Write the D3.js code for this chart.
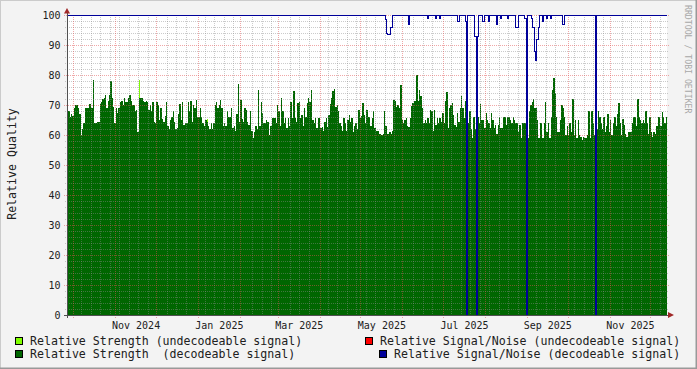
<!DOCTYPE html>
<html>
<head>
<meta charset="utf-8">
<script src="https://cdn.jsdelivr.net/npm/d3@7"></script>
<style>
  html, body { margin: 0; padding: 0; background: #f3f3f3; }
  svg { display: block; font-family: "DejaVu Sans Mono", monospace; }
</style>
</head>
<body>
<div class="svg"></div>
<script>
// one value per day, starting at firstDay
const firstDay = "2024-09-26";

// Relative Strength (decodeable signal), daily
const strength = [
  66,68,66,67,66.5,69,70,70,69,67,
  60,62,64,69,69,69,70.5,70.5,69,78.5,
  64,64,64.5,64.5,70.5,71,72,72.5,73.5,69,
  71.5,73.5,78,72.5,69.5,64,69,67.5,69,71,
  71.5,70,72.3,71,71,72.5,73.4,71.5,70,70,
  68,68.5,61,72.5,72.5,72.5,71.5,71,71.5,71,
  68.5,70,68,71,64.5,64,71,70,65,69,
  65.5,64.5,66.5,71,63,62,65,66,68,64.5,
  62,62.5,67,70.5,65,71,63.5,64,64,71,
  68,71.5,64.5,70,69,71.8,66,66,69,66,
  64,63,65,64.5,63,62,64,62,64,70,
  71,69,70,71.8,69,63,64,63,68,66,
  66,69,62.5,63,61.5,67,77,64.5,71.8,65.5,
  64.5,69,68.5,64.5,63.5,68,61.5,59,61,63,
  62,75,63,71,67.5,64,64,65,64.5,60,
  63,65.7,65.8,65.7,64,70,68,63,72.3,68,
  64,65.7,62.5,65.7,63,71,65.7,74.8,65.7,64.5,
  70.7,71,65.7,66.8,63,69,66,70.7,72.3,71,
  75,65,64,65.8,62.3,65.8,65.7,62.3,62.8,61.5,
  64.5,65.7,62.8,66.8,70.5,72.5,74.8,75.2,69.5,70,
  68,64,63,61.5,65.7,64,61.5,65,66.8,64.5,
  65.7,61,63,64,62,68.4,65.7,66.2,70.7,66.8,
  64,68.4,66,66,63,65.7,67.9,62.3,61.2,61.2,
  60.5,60.2,60,60.5,68,63,60.2,60.5,61,60.2,
  61.2,71.8,71.2,69.5,70,69,76.8,65,64,65,
  65.7,63,62.8,65.7,69.6,70.7,71.2,71.2,80,71.5,
  75.1,72.9,69,64,65,64,65.7,64,68.4,67.9,
  61.2,68.4,63.5,65.7,64,65.7,64.5,67.3,64,71.2,
  74.5,62.3,69,70,70.7,66.8,63.5,62.8,67.3,64.5,
  69,72.9,69,65.7,71.2,65.7,64,68,62,59,
  66,62,57,66,64,70.5,65,65,62.3,67.2,
  65,64,62.3,67.2,65,62.3,63.3,60.5,63.3,66,
  62.3,62.3,66,66,63.3,66,66,65,64,66,
  65,64,64,61,63.5,59,64,64,64,null,
  59,68,70,71,72,69,69,65,59,64,
  64,59,64,71,61,64,59,66,75,79,
  74,66,61,61,65,70,69,66,60,63,
  60,64,61,72,60,65,59,65,60,59.5,
  58.3,59.5,59,59,60,68,59,68,64,60,
  60,62,68,66,64,62,66,61,63,67,
  61,65,60,64,66,63,67,70.6,64,60,
  65.5,63.3,60.5,59.5,61,61,61,64,66,66,
  63,72,66,65,64,65,64,68,64,60.5,
  66,61,59.5,61,60.5,63,66,66,63,67.8,
  66,64,66
];

// Relative Strength (undecodeable signal): the few days it shows
const undecodeableDays = [53, 103];
const undecodeableStrength = [78.5, 65.5];

// Relative Signal/Noise (decodeable signal), daily
const signalNoise = [
  100,100,100,100,100,100,100,100,100,100,
  100,100,100,100,100,100,100,100,100,100,
  100,100,100,100,100,100,100,100,100,100,
  100,100,100,100,100,100,100,100,100,100,
  100,100,100,100,100,100,100,100,100,100,
  100,100,100,100,100,100,100,100,100,100,
  100,100,100,100,100,100,100,100,100,100,
  100,100,100,100,100,100,100,100,100,100,
  100,100,100,100,100,100,100,100,100,100,
  100,100,100,100,100,100,100,100,100,100,
  100,100,100,100,100,100,100,100,100,100,
  100,100,100,100,100,100,100,100,100,100,
  100,100,100,100,100,100,100,100,100,100,
  100,100,100,100,100,100,100,100,100,100,
  100,100,100,100,100,100,100,100,100,100,
  100,100,100,100,100,100,100,100,100,100,
  100,100,100,100,100,100,100,100,100,100,
  100,100,100,100,100,100,100,100,100,100,
  100,100,100,100,100,100,100,100,100,100,
  100,100,100,100,100,100,100,100,100,100,
  100,100,100,100,100,100,100,100,100,100,
  100,100,100,100,100,100,100,100,100,100,
  100,100,100,100,100,100,100,100,100,100,
  100,100,100,100,100,98.5,94,93.5,93.5,96,
  100,100,100,100,100,100,100,100,100,100,
  100,100,97,100,100,100,100,100,100,100,
  100,100,100,100,100,100,99,100,100,100,
  100,100,99,100,100,99,100,100,100,100,
  100,100,100,100,100,100,100,100,98,98,
  100,100,100,100,98,0,100,100,100,100,
  100,93,0,93,100,100,100,98,100,100,
  100,98,100,100,100,100,100,97,100,100,
  99,100,100,100,100,99,100,100,100,100,
  100,96,96,100,100,100,100,100,99,0,
  100,100,100,99,96,88,85,92,96,100,
  100,98,100,100,99,100,100,99,100,100,
  100,100,100,100,100,100,97,100,100,100,
  100,100,100,100,100,100,100,100,100,100,
  100,100,100,100,100,100,100,100,100,100,
  0,100,100,100,100,100,100,100,100,100,
  100,100,100,100,100,100,100,100,100,100,
  100,100,100,100,100,100,100,100,100,100,
  100,100,100,100,100,100,100,100,100,100,
  100,100,100,100,100,100,100,100,100,100,
  100,100,100
];

const yTickValues = [0, 10, 20, 30, 40, 50, 60, 70, 80, 90, 100];
const monthLabels = ["Nov 2024", "Jan 2025", "Mar 2025", "May 2025", "Jul 2025", "Sep 2025", "Nov 2025"];

const legendLabels = [
  "Relative Strength (undecodeable signal)",
  "Relative Strength  (decodeable signal)",
  "Relative Signal/Noise (undecodeable signal)",
  "Relative Signal/Noise (decodeable signal)"
];
const legendColors = ["#80ff00", "#006600", "#ff0000", "#000099"];

const w = 697;
const h = 369;
const plotLeft = 67, plotRight = 667, plotTop = 15, plotBottom = 315;

const svg = d3.select(".svg").append("svg")
    .attr("width", w)
    .attr("height", h);

const start = d3.utcParse("%Y-%m-%d")(firstDay);
const end = d3.utcDay.offset(start, strength.length);
const days = strength.map((v, i) => d3.utcDay.offset(start, i));

const x = d3.scaleUtc().domain([start, end]).range([plotLeft, plotRight]);
const y = d3.scaleLinear().domain([0, 100]).range([plotBottom, plotTop]);

// canvas + shaded border
svg.append("rect").attr("width", w).attr("height", h).attr("fill", "#f3f3f3");
svg.append("path").attr("d", `M0,${h} V0 H${w}`).attr("fill", "none")
    .attr("stroke", "#cbcbcb").attr("stroke-width", 2);
svg.append("path").attr("d", `M${w},0 V${h} H0`).attr("fill", "none")
    .attr("stroke", "#999999").attr("stroke-width", 3);
svg.append("rect").attr("x", plotLeft).attr("y", plotTop)
    .attr("width", plotRight - plotLeft).attr("height", plotBottom - plotTop).attr("fill", "#ffffff");

// undecodeable strength (drawn first)
svg.append("g").selectAll("rect")
    .data(undecodeableDays.map((d, i) => ({ d: days[d], v: undecodeableStrength[i] })))
    .join("rect")
    .attr("x", p => x(p.d))
    .attr("width", p => x(d3.utcDay.offset(p.d, 1)) - x(p.d))
    .attr("y", p => y(p.v))
    .attr("height", p => y(0) - y(p.v))
    .attr("fill", legendColors[0])
    .attr("shape-rendering", "crispEdges");

// decodeable strength
svg.append("g").selectAll("rect")
    .data(strength.map((v, i) => ({ d: days[i], v })).filter(p => p.v != null))
    .join("rect")
    .attr("x", p => x(p.d))
    .attr("width", p => x(d3.utcDay.offset(p.d, 1)) - x(p.d))
    .attr("y", p => y(p.v))
    .attr("height", p => y(0) - y(p.v))
    .attr("fill", legendColors[1])
    .attr("shape-rendering", "crispEdges");

// grid on top of the data
const grid = svg.append("g").attr("shape-rendering", "crispEdges").attr("stroke-dasharray", "1,1");
const minorColor = "rgba(140,140,140,0.45)";
const majorColor = "rgba(225,80,80,0.5)";

const minorY = d3.range(2, 100, 2).filter(v => v % 10 !== 0);
grid.selectAll(".hmin").data(minorY).join("line")
    .attr("x1", plotLeft - 2).attr("x2", plotRight + 2)
    .attr("y1", d => y(d)).attr("y2", d => y(d))
    .attr("stroke", minorColor);

const months = d3.utcMonth.range(d3.utcMonth.ceil(start), end);
const weeks = d3.utcMonday.range(start, end)
    .filter(d => !months.some(m => Math.abs(x(m) - x(d)) < 3));
grid.selectAll(".vmin").data(weeks).join("line")
    .attr("x1", d => x(d)).attr("x2", d => x(d))
    .attr("y1", plotTop).attr("y2", plotBottom + 2)
    .attr("stroke", minorColor);

grid.selectAll(".vmaj").data(months).join("line")
    .attr("x1", d => x(d)).attr("x2", d => x(d))
    .attr("y1", plotTop).attr("y2", plotBottom + 3)
    .attr("stroke", majorColor);

grid.selectAll(".hmaj").data(yTickValues.filter(v => v > 0)).join("line")
    .attr("x1", plotLeft - 3).attr("x2", plotRight + 2)
    .attr("y1", d => y(d)).attr("y2", d => y(d))
    .attr("stroke", majorColor);

// signal / noise line
const snPoints = signalNoise.map((v, i) => [days[i], v]);
snPoints.push([end, signalNoise[signalNoise.length - 1]]);
svg.append("path")
    .datum(snPoints)
    .attr("d", d3.line().x(p => x(p[0])).y(p => y(p[1])).curve(d3.curveStepAfter))
    .attr("fill", "none")
    .attr("stroke", legendColors[3])
    .attr("stroke-width", 1)
    .attr("shape-rendering", "crispEdges");

// axes + arrows
const axisColor = "#505050";
svg.append("line").attr("x1", plotLeft - 3).attr("x2", plotRight + 4)
    .attr("y1", plotBottom).attr("y2", plotBottom)
    .attr("stroke", axisColor).attr("shape-rendering", "crispEdges");
svg.append("line").attr("x1", plotLeft).attr("x2", plotLeft)
    .attr("y1", plotBottom + 3).attr("y2", plotTop - 5)
    .attr("stroke", axisColor).attr("shape-rendering", "crispEdges");
svg.append("path").attr("d", `M${plotLeft - 3},${plotTop - 1.5} L${plotLeft + 3},${plotTop - 1.5} L${plotLeft},${plotTop - 7} Z`)
    .attr("fill", "#a02828");
svg.append("path").attr("d", `M${plotRight + 1},${plotBottom - 3} L${plotRight + 1},${plotBottom + 3} L${plotRight + 7},${plotBottom} Z`)
    .attr("fill", "#a02828");

// y tick labels
svg.append("g").selectAll("text").data(yTickValues).join("text")
    .attr("x", plotLeft - 6.5)
    .attr("y", d => y(d) + 3.5)
    .attr("text-anchor", "end")
    .attr("font-size", "10px")
    .attr("fill", "#202020")
    .text(d => d);

// x labels centred in their month
const parseMonth = d3.utcParse("%b %Y");
svg.append("g").selectAll("text").data(monthLabels).join("text")
    .attr("x", d => {
        const m = parseMonth(d);
        return (x(m) + x(d3.utcMonth.offset(m, 1))) / 2;
    })
    .attr("y", 328.5)
    .attr("text-anchor", "middle")
    .attr("font-size", "10px")
    .attr("fill", "#202020")
    .text(d => d);

// y title
svg.append("text")
    .attr("transform", "translate(15.5,164) rotate(-90)")
    .attr("text-anchor", "middle")
    .attr("font-size", "11.6px")
    .attr("fill", "#202020")
    .text("Relative Quality");

// watermark
svg.append("text")
    .attr("transform", "translate(685,5) rotate(90)")
    .attr("font-size", "8.2px")
    .attr("fill", "#a8a8a8")
    .text("RRDTOOL / TOBI OETIKER");

// legend
const legendPos = [
    { bx: 15, tx: 30, y: 337 },
    { bx: 15, tx: 30, y: 350 },
    { bx: 365, tx: 380, y: 337 },
    { bx: 379, tx: 394, y: 350 }
];
const legend = svg.append("g");
legendLabels.forEach((label, i) => {
    const p = legendPos[i];
    legend.append("rect")
        .attr("x", p.bx + 0.5).attr("y", p.y + 0.5)
        .attr("width", 7).attr("height", 7)
        .attr("fill", legendColors[i])
        .attr("stroke", "#000000")
        .attr("shape-rendering", "crispEdges");
    legend.append("text")
        .attr("x", p.tx).attr("y", p.y + 8.3)
        .attr("font-size", "11.6px")
        .attr("fill", "#202020")
        .style("white-space", "pre")
        .text(label);
});
</script>
</body>
</html>
